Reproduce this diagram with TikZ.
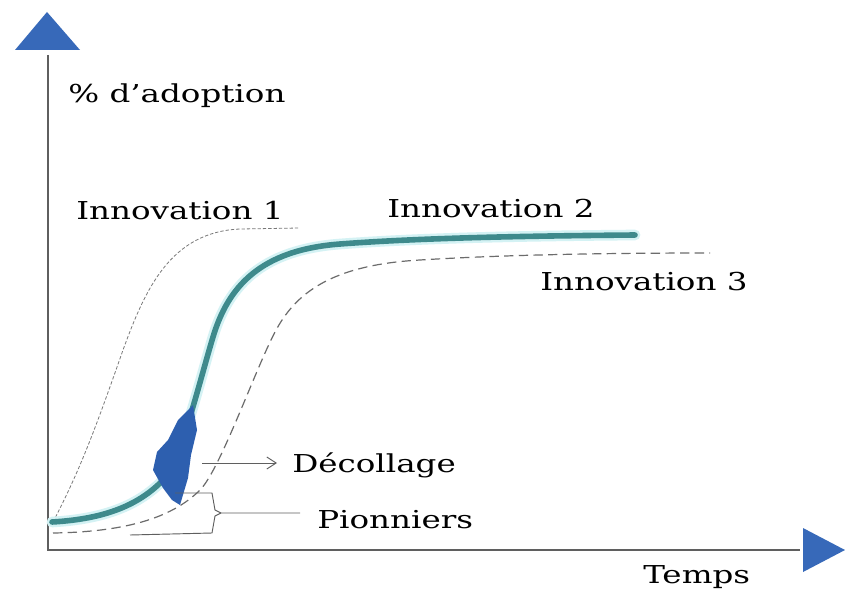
\documentclass[tikz,border=0pt]{standalone}
\usepackage{graphicx}
\usepackage{fontspec}
\setmainfont{DejaVu Serif}
\usetikzlibrary{arrows.meta}
\definecolor{axisgray}{RGB}{95,95,95}
\definecolor{triblue}{RGB}{55,105,185}
\definecolor{tealc}{RGB}{62,138,140}
\definecolor{glowc}{RGB}{212,242,244}
\definecolor{blobc}{RGB}{45,95,175}
\definecolor{curvegray}{RGB}{120,120,120}
\newcommand{\wtxt}[1]{\scalebox{1.32}[1]{#1}}
\tikzset{
  lbl/.style={anchor=base west, inner sep=0pt, font=\fontsize{18.5pt}{20pt}\selectfont, text=black},
  axisline/.style={draw=axisgray, line width=1.4pt},
  tri/.style={fill=triblue, draw=none},
  inno1/.style={draw=curvegray, line width=0.6pt, dash pattern=on 2.5pt off 1.5pt},
  inno3/.style={draw=curvegray!90!black, line width=0.9pt, dash pattern=on 7pt off 4pt},
  glow/.style={draw=glowc, line width=8pt, line cap=round},
  tealline/.style={draw=tealc, line width=4.2pt, line cap=round},
  pointer/.style={draw=axisgray, line width=0.7pt},
}
\begin{document}
\begin{tikzpicture}[x=0.75pt, y=-0.75pt]
\useasboundingbox (0,0) rectangle (845,592);
\fill[white] (0,0) rectangle (845,592);
% axes
\draw[axisline] (48,55) -- (48,550) -- (800,550);
\fill[tri] (15,50) -- (80,50) -- (47,12) -- cycle;
\fill[tri] (803,528) -- (803,572) -- (845,550) -- cycle;
% Innovation 1
\draw[inno1] (53,522) .. controls (80,470) and (95,430) .. (123,350)
  .. controls (145,290) and (170,232) .. (240,229) -- (300,228);
% Innovation 3
\draw[inno3] (53,533) .. controls (120,532) and (170,520) .. (200,490)
  .. controls (220,470) and (255,370) .. (275,332)
  .. controls (295,294) and (330,265) .. (420,260)
  .. controls (500,255) and (600,253) .. (710,253);
% Innovation 2
\foreach \st in {glow, tealline}{
\draw[\st] (52,522) .. controls (105,519) and (140,505) .. (165,478)
  .. controls (180,462) and (200,380) .. (213,337)
  .. controls (228,287) and (260,250) .. (340,244)
  .. controls (420,238) and (520,236) .. (635,235);
}
% take-off blob
\fill[blobc] (193,405) -- (197,430) -- (191,455) -- (188,478) -- (180,505) -- (172,500) -- (163,488) -- (153,470) -- (157,452) -- (168,440) -- (178,420) -- cycle;
% labels
\node[lbl] (yl) at (68,103) {\wtxt{\% d’adoption}};
\node[lbl] (i1) at (76,219) {\wtxt{Innovation 1}};
\node[lbl] (i2) at (387,217) {\wtxt{Innovation 2}};
\node[lbl] (i3) at (540,290) {\wtxt{Innovation 3}};
\node[lbl] (dec) at (292,472) {\wtxt{Décollage}};
\node[lbl] (pio) at (317,528) {\wtxt{Pionniers}};
\node[lbl] (tps) at (643,583) {\wtxt{Temps}};
% Décollage arrow
\coordinate (decs) at (202,463);
\coordinate (deca) at (277,463);
\draw[pointer, -{Straight Barb[length=7pt, width=9pt]}] (decs) -- (deca);
% Pionniers brace
\coordinate (bt) at (175,493);
\coordinate (bb) at (130,535);
\coordinate (btip) at (300,513);
\draw[pointer] (bt) -- (212,493) -- (215,510) -- (221,513) -- (btip);
\draw[pointer] (221,513) -- (215,516) -- (212,533) -- (bb);
\end{tikzpicture}
\end{document}
